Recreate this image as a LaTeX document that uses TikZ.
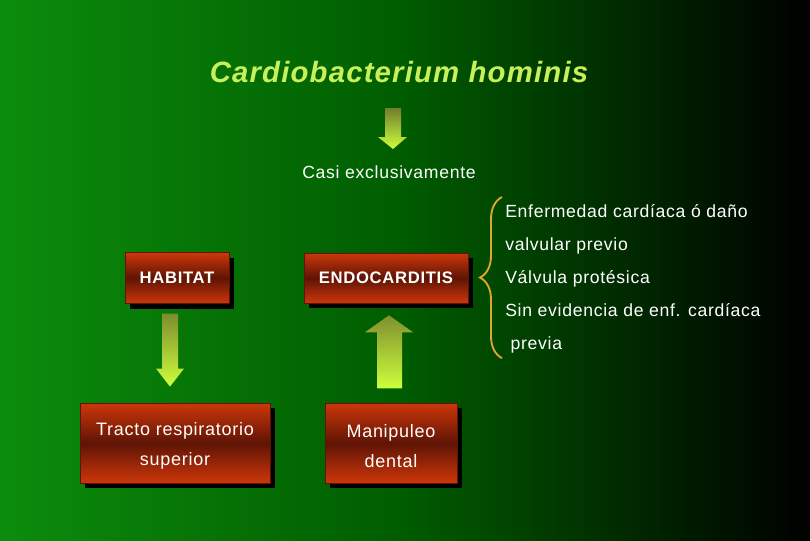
\documentclass[tikz,border=0pt]{standalone}
\usepackage{fontspec}
\setmainfont{Liberation Sans}[LetterSpace=4]
\usetikzlibrary{positioning,shadows,decorations.pathreplacing}

\definecolor{bggreen}{RGB}{12,140,12}
\definecolor{bgmid}{RGB}{0,92,0}
\definecolor{titlegreen}{RGB}{200,240,90}
\definecolor{boxlight}{RGB}{205,55,10}
\definecolor{boxdark}{RGB}{95,20,5}
\definecolor{arrtop}{RGB}{115,125,45}
\definecolor{arrbot}{RGB}{205,255,60}
\definecolor{bracegold}{RGB}{225,165,50}

\begin{document}
\begin{tikzpicture}[x=0.75pt, y=-0.75pt,
  box/.style={rectangle, draw=boxdark, line width=0.4pt, top color=boxlight, bottom color=boxlight,
              middle color=boxdark, text=white, align=center, inner sep=0pt,
              drop shadow={shadow xshift=4pt, shadow yshift=-4pt, opacity=1, fill=black}},
  hdr/.style={box, font=\bfseries\fontsize{12.5}{15}\selectfont},
  sub/.style={box, font=\fontsize{13.5}{22.5}\selectfont, text height=37pt},
  blk/.style={top color=arrtop, bottom color=arrbot, draw=none},
  txt/.style={text=white, font=\fontsize{13.2}{24.75}\selectfont, inner sep=0pt}
]
\shade[left color=bggreen, right color=black, middle color=bgmid] (0,0) rectangle (810,540);

\node[font=\bfseries\itshape\fontsize{22}{26}\selectfont, text=titlegreen] (title) at (399,72) {Cardiobacterium hominis};
\node[txt] (casi) at (389,172) {Casi exclusivamente};
\node[hdr, minimum width=78pt, minimum height=38pt]    (hab)    at (177,278) {HABITAT};
\node[hdr, minimum width=123pt, minimum height=37.5pt] (endo)   at (386,278) {ENDOCARDITIS};
\node[sub, minimum width=142.5pt, minimum height=60pt] (tracto) at (175,443) {Tracto respiratorio\\superior};
\node[sub, minimum width=99pt, minimum height=60pt]    (manip)  at (391,443) {Manipuleo\\dental};
\node[txt, anchor=north west, align=left] (cond) at (505,204)
  {Enfermedad cardíaca ó daño\\valvular previo\\Válvula protésica\\Sin evidencia de enf. cardíaca\\\hspace{4pt}previa};

% block arrows
\shade[blk] (385,108) -- (401,108) -- (401,137) -- (407,137) -- (393,149) -- (378,137) -- (385,137) -- cycle;
\shade[blk] (hab.south) ++(-15,10) -- ++(16,0) -- ++(0,55) -- ++(6,0) -- ++(-14,18) -- ++(-14,-18) -- ++(6,0) -- cycle;
\shade[blk] (endo.south) ++(3,12) -- ++(24,17) -- ++(-11,0) -- ++(0,56) -- ++(-25,0) -- ++(0,-56) -- ++(-12,0) -- cycle;

\draw[bracegold, line width=1.4pt, decorate, decoration={brace, amplitude=16.5pt}]
  ([shift={(-3,5)}]cond.south west) -- ([shift={(-3,-7)}]cond.north west);
\end{tikzpicture}
\end{document}
